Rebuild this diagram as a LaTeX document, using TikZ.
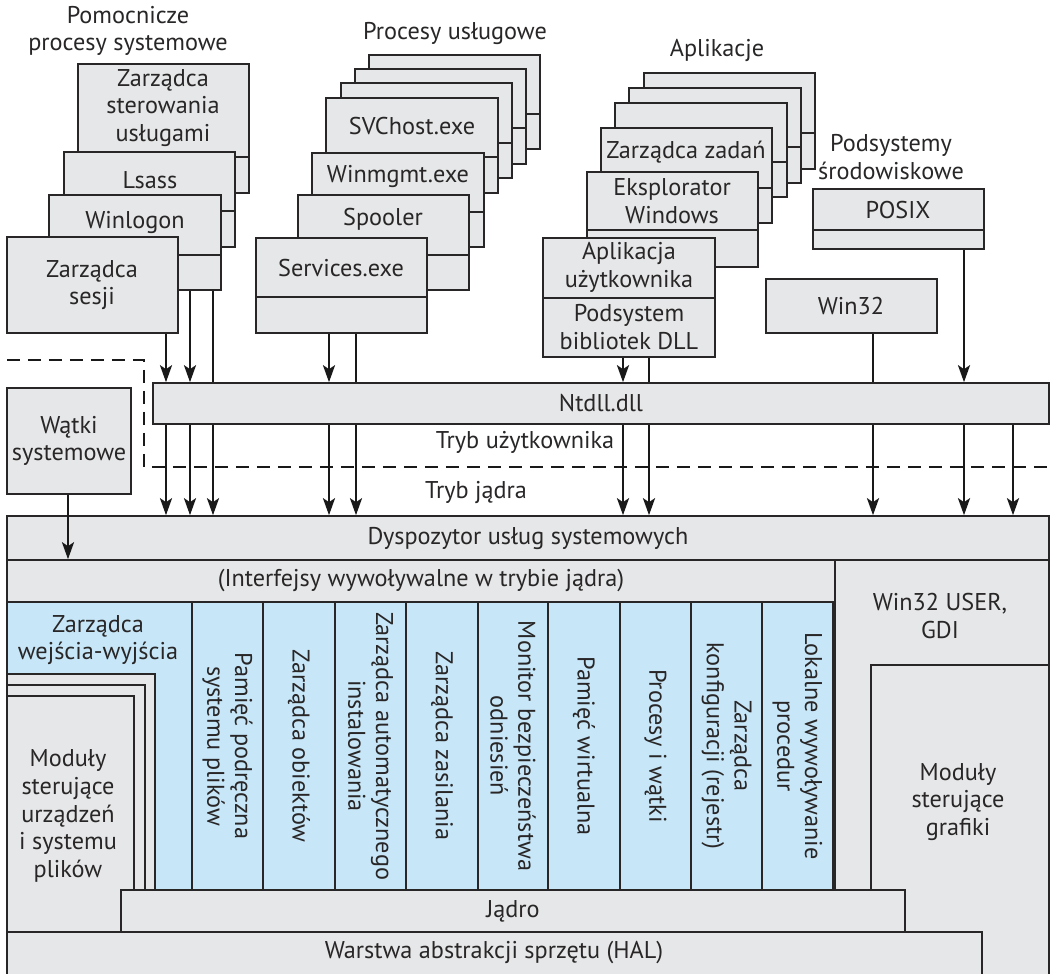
\documentclass[tikz,border=0pt]{standalone}
\usepackage{fontspec}
\setmainfont{PT Sans}
\usepackage{tikz}
\usetikzlibrary{arrows.meta,positioning,fit}
\definecolor{boxgray}{RGB}{230,231,232}
\definecolor{kernblue}{RGB}{199,230,247}
\definecolor{ink}{RGB}{40,38,39}

\begin{document}
\begin{tikzpicture}[x=0.02cm,y=-0.02cm,
    box/.style={draw=ink, fill=boxgray, line width=0.9pt, inner sep=0pt},
    bluebox/.style={box, fill=kernblue},
    divline/.style={draw=ink, line width=0.9pt},
    lbl/.style={text=ink, align=center, inner sep=0pt, font=\fontsize{13.8}{15.8}\selectfont},
    vlbl/.style={lbl, rotate=-90},
    arr/.style={draw=black!90, line width=1.5pt, -{Stealth[length=3.4mm,width=2.4mm,inset=0.8mm]}},
    plainline/.style={draw=black!90, line width=1.5pt},
    modeline/.style={draw=black!90, line width=1.5pt, dash pattern=on 2.6mm off 1.6mm}]
\useasboundingbox (0,0) rectangle (1052,974);

% group titles
\node[lbl] (pomtitle) at (128,31) {Pomocnicze\\procesy systemowe};
\node[lbl] (ustitle) at (455,33) {Procesy usługowe};
\node[lbl] (aptitle) at (717,50) {Aplikacje};
\node[lbl] (podtitle) at (891,157) {Podsystemy\\środowiskowe};

% support processes
\node[box, fit={(78,64) (249,193)}] (zsu) {};
\draw[divline] (zsu.west |- 0,157) -- (zsu.east |- 0,157);
\node[lbl] (zsu-t) at (163,108) {Zarządca\\sterowania\\usługami};
\node[box, fit={(64,152) (235,247)}] (lsass) {};
\draw[divline] (lsass.west |- 0,211) -- (lsass.east |- 0,211);
\node[lbl] (lsass-t) at (150,180) {Lsass};
\node[box, fit={(49,195) (221,290)}] (winlogon) {};
\draw[divline] (winlogon.west |- 0,255) -- (winlogon.east |- 0,255);
\node[lbl] (winlogon-t) at (135,222) {Winlogon};
\node[box, fit={(7,237) (178,333)}] (sesji) {};
\node[lbl] (sesji-t) at (92,285) {Zarządca\\sesji};

% service processes
\node[box, fit={(369,55) (540,149)}] (us4) {};
\draw[divline] (us4.west |- 0,114) -- (us4.east |- 0,114);
\node[box, fit={(355,69) (526,164)}] (us3) {};
\draw[divline] (us3.west |- 0,128) -- (us3.east |- 0,128);
\node[box, fit={(341,83) (512,178)}] (us2) {};
\draw[divline] (us2.west |- 0,143) -- (us2.east |- 0,143);
\node[box, fit={(326,98) (498,193)}] (svchost) {};
\draw[divline] (svchost.west |- 0,157) -- (svchost.east |- 0,157);
\node[lbl] (svchost-t) at (412,126) {SVChost.exe};
\node[box, fit={(312,153) (484,247)}] (winmgmt) {};
\draw[divline] (winmgmt.west |- 0,212) -- (winmgmt.east |- 0,212);
\node[lbl] (winmgmt-t) at (398,176) {Winmgmt.exe};
\node[box, fit={(298,195) (469,290)}] (spooler) {};
\draw[divline] (spooler.west |- 0,255) -- (spooler.east |- 0,255);
\node[lbl] (spooler-t) at (383,219) {Spooler};
\node[box, fit={(256,238) (427,333)}] (services) {};
\draw[divline] (services.west |- 0,297) -- (services.east |- 0,297);
\node[lbl] (services-t) at (341,268) {Services.exe};

% applications
\node[box, fit={(644,73) (815,169)}] (ap4) {};
\draw[divline] (ap4.west |- 0,133) -- (ap4.east |- 0,133);
\node[box, fit={(629,88) (801,183)}] (ap3) {};
\draw[divline] (ap3.west |- 0,147) -- (ap3.east |- 0,147);
\node[box, fit={(615,103) (787,197)}] (ap2) {};
\draw[divline] (ap2.west |- 0,162) -- (ap2.east |- 0,162);
\node[box, fit={(601,128) (772,223)}] (zadan) {};
\draw[divline] (zadan.west |- 0,188) -- (zadan.east |- 0,188);
\node[lbl] (zadan-t) at (686,152) {Zarządca zadań};
\node[box, fit={(587,172) (758,267)}] (eksplorator) {};
\draw[divline] (eksplorator.west |- 0,230) -- (eksplorator.east |- 0,230);
\node[lbl] (eksplorator-t) at (672,201) {Eksplorator\\Windows};
\node[box, fit={(543,238) (715,357)}] (aplikacja) {};
\draw[divline] (aplikacja.west |- 0,298) -- (aplikacja.east |- 0,298);
\node[lbl] (aplikacja-t) at (629,267) {Aplikacja\\użytkownika};
\node[lbl] (dll-t) at (629,327) {Podsystem\\bibliotek DLL};

% environment subsystems
\node[box, fit={(813,189) (984,249)}] (posix) {};
\draw[divline] (posix.west |- 0,230) -- (posix.east |- 0,230);
\node[lbl] (posix-t) at (898,210) {POSIX};
\node[box, fit={(766,279) (937,333)}] (win32) {};
\node[lbl] (win32-t) at (851,306) {Win32};

% user / kernel boundary
\node[box, fit={(153,383) (1049,424)}] (ntdll) {};
\node[lbl] at (ntdll) {Ntdll.dll};
\node[box, fit={(7,388) (131,494)}] (watki) {};
\node[lbl] at (watki) {Wątki\\systemowe};
\draw[modeline] (7,360) -- (144,360) -- (144,467) -- (1052,467);
\node[lbl] (usermode) at (525,442) {Tryb użytkownika};
\node[lbl] (kernmode) at (476,492) {Tryb jądra};

% kernel
\node[box, fit={(835,560) (1049,976)}] (win32user) {};
\node[lbl] at (940,616) {Win32 USER,\\GDI};
\node[box, fit={(871,665) (1049,976)}] (grafiki) {};
\node[lbl] at (958,802) {Moduły\\sterujące\\grafiki};
\node[box, fit={(7,516) (1049,560)}] (dyspozytor) {};
\node[lbl] at (dyspozytor) {Dyspozytor usług systemowych};
\node[box, fit={(7,560) (835,602)}] (interfejsy) {};
\node[lbl] at (interfejsy) {(Interfejsy wywoływalne w trybie jądra)};
\node[bluebox, fit={(7,602) (192,890)}] (iomgr) {};
\node[lbl] at (98,640) {Zarządca\\wejścia-wyjścia};
\node[bluebox, fit={(192,602) (263,890)}] (col1) {};
\node[vlbl] at (col1) {Pamięć podręczna\\systemu plików};
\node[bluebox, fit={(263,602) (335,890)}] (col2) {};
\node[vlbl] at (col2) {Zarządca obiektów};
\node[bluebox, fit={(335,602) (406,890)}] (col3) {};
\node[vlbl] at (col3) {Zarządca automatycznego\\instalowania};
\node[bluebox, fit={(406,602) (478,890)}] (col4) {};
\node[vlbl] at (col4) {Zarządca zasilania};
\node[bluebox, fit={(478,602) (548,890)}] (col5) {};
\node[vlbl] at (col5) {Monitor bezpieczeństwa\\odniesień};
\node[bluebox, fit={(548,602) (620,890)}] (col6) {};
\node[vlbl] at (col6) {Pamięć wirtualna};
\node[bluebox, fit={(620,602) (691,890)}] (col7) {};
\node[vlbl] at (col7) {Procesy i wątki};
\node[bluebox, fit={(691,602) (762,890)}] (col8) {};
\node[vlbl] at (col8) {Zarządca\\konfiguracji (rejestr)};
\node[bluebox, fit={(762,602) (833,890)}] (col9) {};
\node[vlbl] at (col9) {Lokalne wywoływanie\\procedur};
\node[box, fit={(7,674) (155,932)}] (drv3) {};
\node[box, fit={(7,685) (145,932)}] (drv2) {};
\node[box, fit={(7,696) (134,932)}] (drv1) {};
\node[lbl] at (68,816) {Moduły\\sterujące\\urządzeń\\i systemu\\plików};
\node[box, fit={(121,890) (905,932)}] (jadro) {};
\node[lbl] at (jadro) {Jądro};
\node[box, fit={(7,932) (982,976)}] (hal) {};
\node[lbl] at (494,953) {Warstwa abstrakcji sprzętu (HAL)};

% calls into ntdll
\draw[arr] (sesji.south -| 166,0) -- (ntdll.north -| 166,0);
\draw[arr] (winlogon.south -| 190,0) -- (ntdll.north -| 190,0);
\draw[plainline] (winlogon.south -| 213,0) -- (ntdll.north -| 213,0);
\draw[arr] (services.south -| 329,0) -- (ntdll.north -| 329,0);
\draw[plainline] (services.south -| 356,0) -- (ntdll.north -| 356,0);
\draw[arr] (aplikacja.south -| 623,0) -- (ntdll.north -| 623,0);
\draw[plainline] (aplikacja.south -| 649,0) -- (ntdll.north -| 649,0);
\draw[plainline] (win32.south -| 873,0) -- (ntdll.north -| 873,0);
\draw[arr] (posix.south -| 964,0) -- (ntdll.north -| 964,0);

% calls into the kernel
\foreach \cx in {166,190,213,329,356,623,649,873,964,1013}
  \draw[arr] (ntdll.south -| \cx,0) -- (dyspozytor.north -| \cx,0);
\draw[arr] (watki.south -| 68,0) -- (interfejsy.north -| 68,0);
\end{tikzpicture}
\end{document}
